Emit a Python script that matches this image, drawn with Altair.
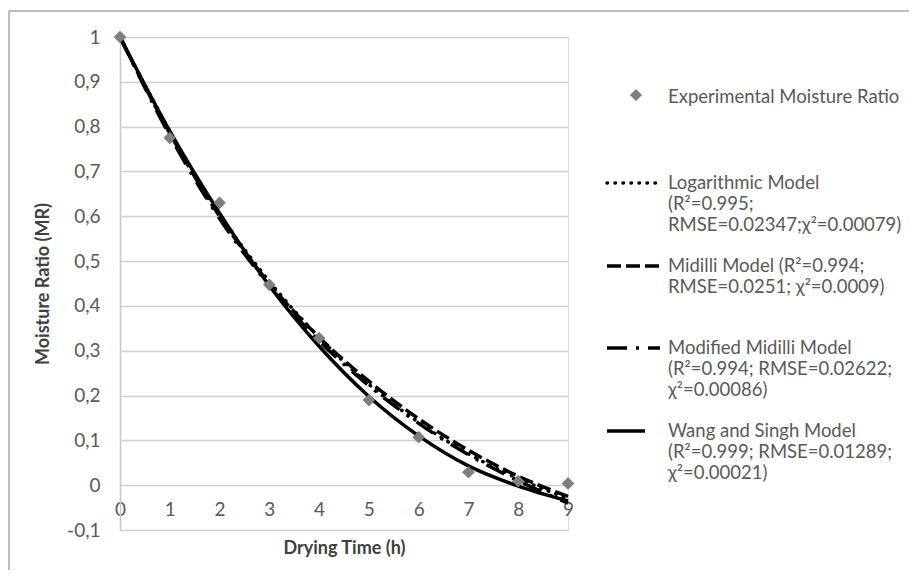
import altair as alt
import pandas as pd

# ---- data ----
hours = [0, 1, 2, 3, 4, 5, 6, 7, 8, 9]
experimental = [1.0, 0.775, 0.63, 0.447, 0.328, 0.19, 0.107, 0.029, 0.009, 0.004]
logarithmic = [1.0, 0.79, 0.605, 0.455, 0.33, 0.225, 0.14, 0.07, 0.015, -0.03]
midilli = [1.0, 0.785, 0.60, 0.45, 0.33, 0.232, 0.148, 0.078, 0.02, -0.025]
modified_midilli = [1.0, 0.78, 0.595, 0.445, 0.322, 0.222, 0.138, 0.068, 0.01, -0.04]
wang_singh = [1.0, 0.79, 0.607, 0.445, 0.31, 0.198, 0.11, 0.043, -0.002, -0.035]

y_ticks = [-0.1, 0, 0.1, 0.2, 0.3, 0.4, 0.5, 0.6, 0.7, 0.8, 0.9, 1.0]
x_ticks = [0, 1, 2, 3, 4, 5, 6, 7, 8, 9]

legend_exp = "Experimental Moisture Ratio"
legend_log = ["Logarithmic Model", "(R²=0.995;", "RMSE=0.02347;χ²=0.00079)"]
legend_mid = ["Midilli Model (R²=0.994;", "RMSE=0.0251; χ²=0.0009)"]
legend_mod = ["Modified Midilli Model", "(R²=0.994; RMSE=0.02622;", "χ²=0.00086)"]
legend_wang = ["Wang and Singh Model", "(R²=0.999; RMSE=0.01289;", "χ²=0.00021)"]

FONT = "Lato"
TXT = "#595959"
W, H = 448, 493

exp_df = pd.DataFrame({"t": hours, "mr": experimental})
models = {
    "log": logarithmic,
    "mid": midilli,
    "mod": modified_midilli,
    "wang": wang_singh,
}

xscale = alt.Scale(domain=[0, 9], nice=False)
yscale = alt.Scale(domain=[-0.1, 1.0], nice=False, zero=False)

y_label_expr = ("(datum.value < 0 ? '-' : '') + "
                "replace(format(abs(datum.value), '.1~f'), '.', ',')")

base = alt.Chart(exp_df).mark_point(
    shape="diamond", filled=True, color="#7f7f7f", size=150, opacity=1
).encode(
    x=alt.X("t:Q", scale=xscale, axis=alt.Axis(
        values=x_ticks, title="Drying Time (h)", grid=False, domain=False,
        ticks=False, offset=-45, labelPadding=15, titlePadding=20,
        labelFlush=False, labelOverlap=False,
        labelFont=FONT, labelFontSize=19, labelColor=TXT,
        titleFont=FONT, titleFontSize=18, titleFontWeight="bold", titleColor="#404040")),
    y=alt.Y("mr:Q", scale=yscale, axis=alt.Axis(
        values=y_ticks, title="Moisture Ratio (MR)", labelExpr=y_label_expr,
        grid=True, gridColor="#d0d0d0", gridWidth=1.5,
        domain=True, domainColor="#c8c8c8", domainWidth=1.5,
        ticks=False, labelPadding=20, titlePadding=14, labelFlush=False,
        labelFont=FONT, labelFontSize=19, labelColor=TXT,
        titleFont=FONT, titleFontSize=18, titleFontWeight="bold", titleColor="#404040")),
)

dash_styles = {
    "log": dict(strokeDash=[0.5, 7.5], strokeCap="round"),
    "mid": dict(strokeDash=[14, 5], strokeCap="butt"),
    "mod": dict(strokeDash=[20, 9, 3, 9], strokeCap="butt"),
    "wang": dict(strokeCap="butt"),
}

line_layers = []
for key, vals in models.items():
    df = pd.DataFrame({"t": hours, "mr": vals})
    line_layers.append(
        alt.Chart(df).mark_line(color="black", strokeWidth=3.5,
                                interpolate="monotone", **dash_styles[key])
        .encode(x=alt.X("t:Q", scale=xscale), y=alt.Y("mr:Q", scale=yscale))
    )

# ---- legend (drawn in pixel space of the plot area) ----
one = pd.DataFrame({"a": [0]})
legend_layers = []
LX0, LX1, TX = 487, 540, 548


def text_lines(lines, y0, step=21):
    out = []
    for i, s in enumerate(lines):
        out.append(alt.Chart(one).mark_text(
            text=s, align="left", baseline="middle", font=FONT, fontSize=18.5,
            color=TXT).encode(x=alt.value(TX), y=alt.value(y0 + i * step)))
    return out


legend_layers.append(alt.Chart(one).mark_point(
    shape="diamond", filled=True, color="#7f7f7f", size=150, opacity=1
).encode(x=alt.value(516), y=alt.value(58)))
legend_layers += text_lines([legend_exp], 60)

entries = [("log", legend_log, 146, LX1), ("mid", legend_mid, 229, LX1),
           ("mod", legend_mod, 311, LX1), ("wang", legend_wang, 394, 525)]
for key, lines, y0, xend in entries:
    legend_layers.append(alt.Chart(one).mark_rule(
        color="black", strokeWidth=3.5, **dash_styles[key]
    ).encode(x=alt.value(LX0), x2=alt.value(xend), y=alt.value(y0)))
    legend_layers += text_lines(lines, y0)

# chart border (top and left edges visible in the reference)
border = [
    alt.Chart(one).mark_rule(color="#a6a6a6", strokeWidth=1.5).encode(
        x=alt.value(-111), x2=alt.value(900), y=alt.value(-26)),
    alt.Chart(one).mark_rule(color="#a6a6a6", strokeWidth=1.5).encode(
        x=alt.value(-111), y=alt.value(-26), y2=alt.value(700)),
]

chart = alt.layer(*border, base, *line_layers, base, *legend_layers).properties(
    width=W, height=H,
    autosize=alt.AutoSizeParams(type="none"),
    padding={"left": 112, "top": 29, "right": 341, "bottom": 40},
).configure_view(stroke=None).configure(background="white")

chart.save("out.html", embed_options={"renderer": "svg", "actions": False})
